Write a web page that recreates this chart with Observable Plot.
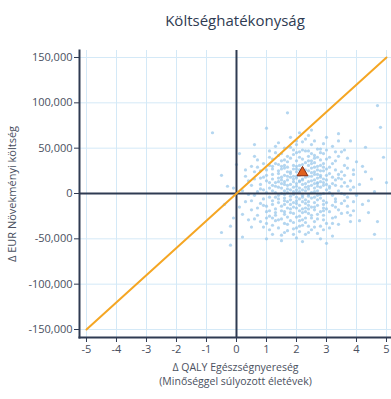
<!DOCTYPE html>
<html><head><meta charset="utf-8">
<script src="https://cdn.jsdelivr.net/npm/d3@7"></script>
<script src="https://cdn.jsdelivr.net/npm/@observablehq/plot@0.6"></script>
<style>
body{margin:0;background:#fff;font-family:"Open Sans",sans-serif;}
#title{height:42px;width:312px;padding-left:79px;text-align:center;font-size:15px;font-weight:500;color:#2f3b52;line-height:40px;}
</style></head><body>
<div id="title">Költséghatékonyság</div>
<div id="chart"></div>
<script>
const xTicks = [-5,-4,-3,-2,-1,0,1,2,3,4,5];
const yTicks = [-150000,-100000,-50000,0,50000,100000,150000];
const xLabel1 = "Δ QALY Egészségnyereség";
const xLabel2 = "(Minőséggel súlyozott életévek)";
const yLabel = "Δ EUR Növekményi költség";
const wtpLine = [[-5,-150000],[5,150000]];
const meanPoint = [[2.2,23000]];
// PSA runs: [QALY gain, incremental cost in thousand EUR]
const psaRuns = [
[2.1,14],[1.6,3],[2.8,25],[1.2,-8],[2.4,31],[3.1,6],[0.9,18],[1.9,-15],[2.6,42],[1.4,22],
[2.2,-4],[3.4,17],[1.7,35],[0.6,-2],[2.9,-12],[2.0,8],[1.1,40],[3.7,28],[2.5,1],[1.8,51],
[1.3,-21],[2.7,12],[3.0,38],[0.8,5],[2.3,-27],[1.5,11],[3.3,-6],[2.0,27],[0.4,14],[2.9,55],
[1.6,-33],[2.4,19],[3.8,4],[1.0,-14],[2.1,46],[3.2,33],[1.9,2],[2.6,-18],[0.7,29],[1.4,7],
[2.3,60],[3.5,-11],[1.2,16],[2.8,-1],[1.7,24],[0.3,-9],[2.5,36],[3.9,21],[2.0,-38],[1.5,44],
[2.9,9],[1.1,-25],[2.2,28],[3.6,48],[1.8,-7],[0.9,33],[2.7,-23],[3.0,15],[1.3,52],[2.4,-13],
[4.1,10],[1.6,20],[2.1,-30],[0.5,-18],[3.3,26],[2.6,58],[1.9,13],[1.0,1],[2.8,37],[3.7,-4],
[2.0,-11],[1.4,-2],[3.1,-20],[2.5,23],[0.8,-31],[1.7,9],[2.3,3],[3.4,41],[1.2,30],[2.9,-29],
[4.4,-8],[0.6,24],[2.2,16],[1.5,-28],[2.7,49],[3.2,-2],[1.8,39],[2.4,-36],[1.1,12],[3.0,62],
[1.9,27],[2.6,6],[0.2,3],[3.6,12],[2.1,-19],[1.3,45],[2.8,18],[4.0,35],[1.6,-12],[2.3,11],
[0.9,-6],[3.3,-15],[2.0,54],[1.4,32],[2.5,-24],[3.9,-19],[1.7,-41],[2.2,38],[0.5,9],[2.9,29],
[1.2,-35],[3.5,46],[2.4,5],[1.8,18],[0.7,-24],[2.7,-7],[3.1,22],[1.5,0],[2.1,67],[4.3,24],
[2.6,-31],[1.0,26],[3.4,3],[2.2,-9],[1.6,37],[2.9,0],[0.4,-29],[3.7,39],[2.0,17],[1.3,-17],
[2.4,47],[3.8,-24],[1.9,-22],[0.8,17],[2.7,30],[1.1,-40],[3.2,52],[2.3,-45],[1.7,5],[2.5,14],
[4.6,2],[1.4,13],[2.1,31],[3.0,-10],[0.6,41],[2.8,7],[1.8,-3],[3.5,0],[2.2,23],[1.5,-46],
[-0.1,6],[2.6,34],[1.2,3],[3.3,15],[2.0,-26],[1.6,50],[2.9,-16],[0.9,-13],[3.6,31],[2.4,-1],
[1.9,43],[2.3,-16],[3.1,8],[1.0,14],[2.7,21],[4.2,-12],[1.4,-29],[2.1,2],[0.3,26],[3.4,58],
[2.5,-40],[1.7,29],[3.8,14],[2.2,48],[1.3,-4],[2.8,-36],[0.7,2],[3.0,27],[1.6,-20],[2.0,36],
[2.6,15],[3.2,-27],[1.1,-19],[2.4,64],[1.8,22],[0.5,-37],[3.7,-14],[2.9,44],[2.1,-6],[1.5,18],
[3.9,7],[2.3,26],[1.2,38],[2.7,-44],[0.1,-15],[3.3,36],[1.9,-32],[2.5,9],[1.4,56],[4.5,16],
[2.0,4],[1.7,15],[2.4,-3],[2.8,20],[1.3,8],[2.2,-21],[3.1,29],[1.6,-8],[2.6,-10],[1.9,31],
[2.3,18],[1.0,-27],[2.9,12],[3.4,-34],[1.5,27],[2.1,-13],[0.8,-11],[2.7,40],[3.6,-1],[1.8,-17],
[2.5,28],[1.2,21],[3.0,4],[2.2,57],[1.4,-10],[2.8,-20],[0.6,16],[3.2,18],[1.7,-26],[2.0,45],
[2.6,-4],[1.1,6],[3.5,24],[2.4,-22],[1.9,7],[0.9,-37],[2.3,34],[3.8,-31],[1.6,-1],[2.7,11],
[3.0,-33],[1.3,33],[2.1,-36],[2.9,33],[0.4,-1],[1.8,62],[3.3,-9],[2.5,-15],[1.5,6],[4.0,-2],
[2.2,10],[1.7,-34],[2.8,49],[3.1,-38],[1.0,-50],[2.4,25],[1.4,17],[3.7,8],[2.0,-4],[0.7,37],
[2.6,39],[1.9,-45],[3.4,21],[1.2,-12],[2.3,-32],[2.9,-24],[0.2,-23],[3.6,20],[1.6,13],[2.1,20],
[4.2,30],[1.5,36],[2.7,3],[2.0,-49],[1.1,47],[3.2,-13],[2.5,54],[0.5,-8],[1.8,10],[3.9,-9],
[2.4,8],[1.3,-30],[3.0,48],[2.2,-2],[1.7,41],[2.8,-50],[0.8,25],[3.5,-22],[2.6,24],[1.9,-10],
[1.0,-20],[2.3,-11],[3.3,46],[1.6,28],[2.1,13],[4.4,-21],[2.7,-28],[0.3,19],[1.4,-38],[2.9,16],
[-0.8,67],[-0.5,20],[-0.2,-57],[-0.5,-43],[-0.1,-27],[4.7,-31],[4.1,-30],[4.8,73],[4.7,97],[1.7,89],
[0.1,44],[-0.3,8],[4.9,40],[4.6,-45],[1.0,72],[3.0,-55],[0.2,-48],[-0.4,-12],[5.0,12],[3.8,58],
[2.2,-53],[1.5,-52],[2.5,70],[3.4,66],[0.0,32],[4.3,51],[-0.2,-36],[0.6,54],[3.2,-47],[1.2,-45],
[2.1,6],[1.8,24],[2.4,13],[2.0,19],[2.6,2],[1.6,10],[2.3,-7],[2.7,17],[1.9,-1],[2.2,32],
[2.5,-5],[1.7,1],[2.1,26],[2.8,-5],[1.4,25],[2.3,7],[2.0,-16],[2.6,29],[1.5,-14],[2.4,41],
[1.9,16],[2.2,-29],[2.7,-13],[1.3,12],[2.9,25],[1.6,-23],[2.0,30],[3.1,1],[1.8,-21],[2.5,19],
[1.5,15],[2.7,-2],[2.0,11],[1.2,27],[3.0,-17],[2.4,36],[1.8,-12],[2.6,21],[1.1,-4],[3.3,9],
[2.2,-17],[1.6,31],[2.9,-8],[1.9,19],[2.5,-27],[0.8,10],[3.5,16],[2.1,40],[1.4,-6],[2.8,31],
[2.3,22],[1.7,-16],[3.2,11],[1.0,20],[2.6,-15],[2.0,-8],[1.3,1],[3.6,-8],[2.4,-9],[1.9,48],
[2.7,8],[1.5,-19],[2.2,4],[3.0,20],[0.7,-16],[2.5,33],[1.8,-30],[3.4,-18],[2.1,-25],[1.2,-27],
[2.9,-40],[1.6,-5],[2.3,47],[3.1,40],[1.1,31],[2.0,1],[2.6,11],[0.9,4],[3.7,-21],[2.4,-43],
[1.7,19],[2.8,13],[1.4,42],[2.2,15],[3.3,-26],[0.6,-28],[2.5,44],[1.9,-39],[3.9,26],[2.1,-42],
[1.3,-24],[2.7,26],[2.0,24],[1.6,-43],[3.0,10],[2.3,-20],[1.0,-33],[2.9,-19],[1.8,4],[2.4,-17],
[3.5,8],[1.5,30],[2.6,-37],[2.2,-35],[1.2,9],[3.2,-33],[0.5,30],[2.8,45],[1.7,-9],[2.0,58]
];
const runs = psaRuns.map(([q,c]) => ({q, c: c*1000}));
const dark = "#2f3b52";
const textCol = "#4a5060";
const chart = Plot.plot({
  width: 391, height: 357,
  marginTop: 8, marginBottom: 62, marginLeft: 79, marginRight: 0,
  style: {fontFamily: "Open Sans, sans-serif", fontSize: "11px", color: textCol, background: "#fff"},
  x: {domain: [-5.233, 5.167], ticks: xTicks, label: null},
  y: {domain: [-158820, 157720], ticks: yTicks, label: null},
  marks: [
    Plot.gridX(xTicks, {stroke: "#d4e9f7", strokeOpacity: 1}),
    Plot.gridY(yTicks, {stroke: "#d4e9f7", strokeOpacity: 1}),
    Plot.dot(runs, {x: "q", y: "c", r: 1.6, fill: "#94c4ea", fillOpacity: 0.7, stroke: "none"}),
    Plot.ruleX([0], {stroke: dark, strokeWidth: 2}),
    Plot.ruleY([0], {stroke: dark, strokeWidth: 2}),
    Plot.line(wtpLine, {x: d => d[0], y: d => d[1], stroke: "#f5a623", strokeWidth: 2}),
    Plot.dot(meanPoint, {x: d => d[0], y: d => d[1], symbol: "triangle", r: 4, fill: "#e0601e", stroke: "#8a2c10", strokeWidth: 1}),
    Plot.axisX(xTicks, {tickSize: 5, tickPadding: 3, stroke: dark, label: null, fill: textCol, tickFormat: d => String(d)}),
    Plot.axisY(yTicks, {tickSize: 5, tickPadding: 2, stroke: dark, label: null, fill: textCol, tickFormat: d => d.toLocaleString("en-US")}),
    Plot.frame({anchor: "left", stroke: dark, strokeWidth: 2}),
    Plot.frame({anchor: "bottom", stroke: dark, strokeWidth: 2}),
    Plot.text([yLabel], {frameAnchor: "left", textAnchor: "middle", rotate: -90, dx: -67, fill: textCol, fontSize: 11}),
    Plot.text([xLabel1], {frameAnchor: "bottom", textAnchor: "middle", dy: 33, fill: textCol, fontSize: 10.5}),
    Plot.text([xLabel2], {frameAnchor: "bottom", textAnchor: "middle", dy: 47, fill: textCol, fontSize: 10.5})
  ]
});
document.getElementById("chart").appendChild(chart);
</script>
</body></html>
